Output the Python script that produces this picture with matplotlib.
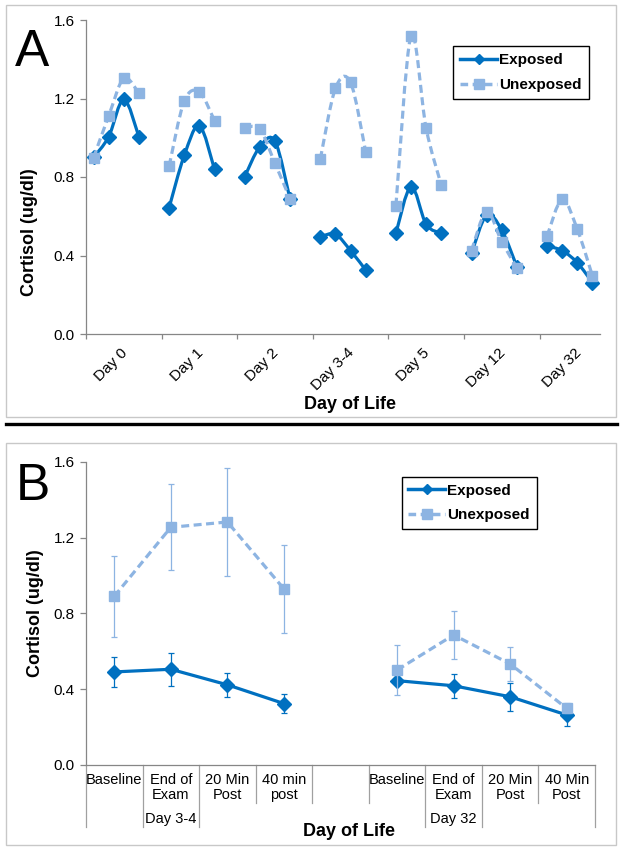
import numpy as np
import matplotlib
matplotlib.use("Agg")
import matplotlib.pyplot as plt
from matplotlib.path import Path
from matplotlib.patches import PathPatch, Rectangle
from matplotlib.lines import Line2D

plt.rcParams['font.family'] = ['Liberation Sans', 'DejaVu Sans']

# ---------------- data ----------------
days_a = ["Day 0", "Day 1", "Day 2", "Day 3-4", "Day 5", "Day 12", "Day 32"]
exposed_a = [
    [0.90, 1.005, 1.196, 1.005],
    [0.644, 0.910, 1.062, 0.839],
    [0.802, 0.955, 0.983, 0.686],
    [0.496, 0.508, 0.425, 0.326],
    [0.513, 0.751, 0.559, 0.513],
    [0.411, 0.606, 0.530, 0.343],
    [0.448, 0.425, 0.363, 0.262],
]
unexposed_a = [
    [0.898, 1.111, 1.303, 1.226],
    [0.856, 1.187, 1.233, 1.087],
    [1.051, 1.043, 0.870, 0.688],
    [0.892, 1.252, 1.282, 0.929],
    [0.654, 1.520, 1.048, 0.759],
    [0.425, 0.623, 0.470, 0.338],
    [0.499, 0.686, 0.533, 0.296],
]

cats_b = ["Baseline", "End of\nExam", "20 Min\nPost", "40 min\npost", "",
          "Baseline", "End of\nExam", "20 Min\nPost", "40 Min\nPost"]
groups_b = ["", "Day 3-4", "", "", "", "", "Day 32", "", ""]
exp_b_d34 = [0.491, 0.505, 0.423, 0.324]
exp_b_d34_err = [0.080, 0.087, 0.063, 0.048]
unexp_b_d34 = [0.890, 1.254, 1.282, 0.929]
unexp_b_d34_err = [0.215, 0.227, 0.286, 0.231]
exp_b_d32 = [0.445, 0.418, 0.360, 0.264]
exp_b_d32_err = [0.020, 0.063, 0.075, 0.057]
unexp_b_d32 = [0.501, 0.686, 0.533, 0.299]
unexp_b_d32_err = [0.133, 0.129, 0.088, 0.026]

yticks = [0.0, 0.4, 0.8, 1.2, 1.6]

# ---------------- style ----------------
C_EXP = "#0070C0"
C_UNX = "#8DB4E2"
C_AX = "#868686"
FIG_W, FIG_H = 624, 852


def fx(px):
    return px / FIG_W


def fy(py):
    return 1 - py / FIG_H


def smooth_path(xs, ys):
    P = np.column_stack([xs, ys]).astype(float)
    n = len(P)
    verts = [P[0]]
    codes = [Path.MOVETO]
    for i in range(n - 1):
        p0 = P[i - 1] if i > 0 else P[i]
        p1 = P[i]
        p2 = P[i + 1]
        p3 = P[i + 2] if i + 2 < n else P[i + 1]
        c1 = p1 + (p2 - p0) / 6.0
        c2 = p2 - (p3 - p1) / 6.0
        verts += [c1, c2, p2]
        codes += [Path.CURVE4] * 3
    return Path(verts, codes)


fig = plt.figure(figsize=(6.24, 8.52), dpi=100)

# frames and separator
for (x0, y0, x1, y1) in [(6, 5, 616, 417), (6, 443, 616, 845)]:
    fig.patches.append(Rectangle((fx(x0), fy(y1)), fx(x1) - fx(x0), fy(y0) - fy(y1),
                                 transform=fig.transFigure, fill=False,
                                 edgecolor="#c8c8c8", lw=1.0))
fig.add_artist(Line2D([fx(6), fx(617)], [fy(424.5), fy(424.5)],
                      transform=fig.transFigure, color="black", lw=2.4))


def style_axes(ax):
    for s in ["top", "right"]:
        ax.spines[s].set_visible(False)
    for s in ["left", "bottom"]:
        ax.spines[s].set_color(C_AX)
        ax.spines[s].set_linewidth(0.9)
    ax.set_ylim(0, 1.6)
    ax.set_yticks(yticks)
    ax.set_yticklabels([f"{v:.1f}" for v in yticks])
    ax.tick_params(axis="y", direction="out", length=4, width=0.9, color=C_AX,
                   labelsize=11, pad=4)


def add_legend(ax, x, y):
    h1 = Line2D([], [], color=C_EXP, lw=2.5, marker="D", ms=5.5)
    h2 = Line2D([], [], color=C_UNX, lw=2.5, ls=(0, (2.2, 1.3)), marker="s", ms=7)
    leg = ax.legend([h1, h2], ["Exposed", "Unexposed"], loc="upper left",
                    bbox_to_anchor=(x, y), frameon=True, fancybox=False,
                    edgecolor="black", framealpha=1, handlelength=2.4,
                    handletextpad=0.15, borderpad=0.45, labelspacing=0.7,
                    prop={"weight": "bold", "size": 11})
    leg.get_frame().set_linewidth(1.0)


# ---------------- panel A ----------------
axA = fig.add_axes([fx(86), fy(334), fx(600) - fx(86), fy(20) - fy(334)])
style_axes(axA)
n_days = len(days_a)
axA.set_xlim(0, n_days * 5 - 1)
for d in range(n_days):
    xs = [d * 5 + j + 0.5 for j in range(4)]
    pe = smooth_path(xs, exposed_a[d])
    axA.add_patch(PathPatch(pe, fill=False, edgecolor=C_EXP, lw=2.3,
                            capstyle="round", zorder=3))
    axA.plot(xs, exposed_a[d], ls="none", marker="D", ms=7.5, color=C_EXP, zorder=4)
for d in range(n_days):
    xs = [d * 5 + j + 0.5 for j in range(4)]
    pu = smooth_path(xs, unexposed_a[d])
    axA.add_patch(PathPatch(pu, fill=False, edgecolor=C_UNX, lw=2.3,
                            ls=(0, (2.5, 1.4)), zorder=5))
    axA.plot(xs, unexposed_a[d], ls="none", marker="s", ms=7, color=C_UNX, zorder=6)

axA.set_xticks([d * 5 + 2.6 for d in range(n_days)])
axA.set_xticklabels(days_a, rotation=45, ha="right", rotation_mode="anchor",
                    va="center")
axA.set_xticks([d * 5 for d in range(n_days)], minor=True)
axA.tick_params(axis="x", which="major", length=0, labelsize=11, pad=12)
axA.tick_params(axis="x", which="minor", direction="out", length=3.5, width=0.9,
                color=C_AX)
add_legend(axA, 0.70, 0.94)

fig.text(fx(350), fy(405), "Day of Life", ha="center", va="center",
         fontsize=13, fontweight="bold")
fig.text(fx(30), fy(232), "Cortisol (ug/dl)", ha="center", va="center",
         rotation=90, fontsize=13, fontweight="bold")
fig.text(fx(15), fy(53), "A", ha="left", va="center", fontsize=37)

# ---------------- panel B ----------------
axB = fig.add_axes([fx(86), fy(765), fx(595) - fx(86), fy(461.7) - fy(765)])
style_axes(axB)
axB.set_xlim(0, len(cats_b))
axB.set_xticks([])
x34 = [i + 0.5 for i in range(4)]
x32 = [i + 5.5 for i in range(4)]
err_kw = dict(capsize=2.5, elinewidth=0.9, capthick=0.9)
for xs, ys, es in [(x34, exp_b_d34, exp_b_d34_err), (x32, exp_b_d32, exp_b_d32_err)]:
    axB.errorbar(xs, ys, yerr=es, color=C_EXP, lw=2.3, marker="D", ms=7.5,
                 ecolor=C_EXP, zorder=3, **err_kw)
for xs, ys, es in [(x34, unexp_b_d34, unexp_b_d34_err), (x32, unexp_b_d32, unexp_b_d32_err)]:
    axB.errorbar(xs, ys, yerr=es, color=C_UNX, lw=2.3, marker="s", ms=7,
                 ls=(0, (2.5, 1.4)), ecolor=C_UNX, zorder=5, **err_kw)

tr = axB.get_xaxis_transform()
ax_h = 765 - 461.7
short_y = -(803 - 765) / ax_h
long_y = -(827 - 765) / ax_h
long_idx = {0, 1, 2, 6, 7, 9}
for i in range(len(cats_b) + 1):
    yb = long_y if i in long_idx else short_y
    axB.plot([i, i], [0, yb], transform=tr, color="#a0a0a0", lw=0.9,
             clip_on=False)
for i, lab in enumerate(cats_b):
    axB.text(i + 0.5, -(773 - 765) / ax_h, lab, transform=tr, ha="center",
             va="top", fontsize=10.5, linespacing=1.05)
for i, lab in enumerate(groups_b):
    if lab:
        axB.text(i + 0.5, -(819 - 765) / ax_h, lab, transform=tr, ha="center",
                 va="center", fontsize=10.5)
add_legend(axB, 0.605, 0.975)

fig.text(fx(349), fy(831), "Day of Life", ha="center", va="center",
         fontsize=13, fontweight="bold")
fig.text(fx(36), fy(613), "Cortisol (ug/dl)", ha="center", va="center",
         rotation=90, fontsize=13, fontweight="bold")
fig.text(fx(16), fy(487), "B", ha="left", va="center", fontsize=37)

fig.savefig("out.png", dpi=100)
